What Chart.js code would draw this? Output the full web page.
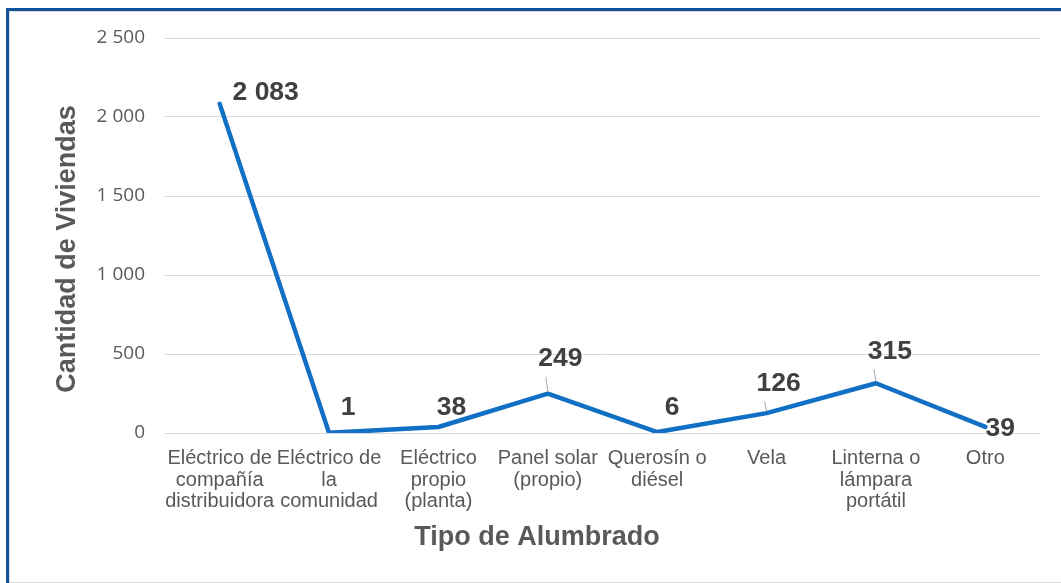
<!DOCTYPE html>
<html>
<head>
<meta charset="utf-8">
<script src="https://cdn.jsdelivr.net/npm/chart.js@4/dist/chart.umd.min.js"></script>
<style>
  html, body { margin: 0; padding: 0; width: 1061px; height: 583px; overflow: hidden; background: #ffffff; }
  .frame { position: absolute; left: 6px; top: 8px; width: 2000px; height: 2000px; border-left: 3px solid #12539B; border-top: 3px solid #12539B; }
  .inner { position: absolute; left: 9px; top: 11px; width: 2000px; height: 570px; border-left: 1px solid #d9d9d9; border-top: 1px solid #d9d9d9; border-bottom: 1px solid #d9d9d9; }
  #c { position: absolute; left: 0; top: 0; }
</style>
</head>
<body>
<div class="frame"></div>
<div class="inner"></div>
<canvas id="c" width="1061" height="583"></canvas>
<script>
// ---- data ----
const categories = [
  ["Eléctrico de", "compañía", "distribuidora"],
  ["Eléctrico de", "la", "comunidad"],
  ["Eléctrico", "propio", "(planta)"],
  ["Panel solar", "(propio)"],
  ["Querosín o", "diésel"],
  ["Vela"],
  ["Linterna o", "lámpara", "portátil"],
  ["Otro"]
];
const viviendas = [2083, 1, 38, 249, 6, 126, 315, 39];
const yTicks = [0, 500, 1000, 1500, 2000, 2500];
const xTitle = "Tipo de Alumbrado";
const yTitle = "Cantidad de Viviendas";

// ---- styling / placement (not data) ----
const labelOffsets = [[46, -12], [19, -26], [13, -20.5], [12.5, -36], [15, -25], [12, -30.5], [14, -33], [15, 1]];
const leaderLines = { 3: true, 5: true, 6: true };

function fmt(v) {
  return String(v).replace(/\B(?=(\d{3})+(?!\d))/g, " ");
}

const overlayPlugin = {
  id: 'overlay',
  afterDatasetsDraw(chart) {
    const ctx = chart.ctx;
    const meta = chart.getDatasetMeta(0);
    ctx.save();
    meta.data.forEach((pt, i) => {
      const off = labelOffsets[i];
      const lx = pt.x + off[0];
      const ly = pt.y + off[1];
      if (leaderLines[i]) {
        ctx.strokeStyle = '#a6a6a6';
        ctx.lineWidth = 1;
        ctx.beginPath();
        ctx.moveTo(pt.x, pt.y - 2);
        ctx.lineTo(pt.x - 2, ly + 19);
        ctx.stroke();
      }
      ctx.fillStyle = '#404040';
      ctx.font = 'bold 26.5px "Liberation Sans", Arial, sans-serif';
      ctx.textAlign = 'center';
      ctx.textBaseline = 'middle';
      ctx.fillText(fmt(viviendas[i]), lx, ly + 1);
    });
    // axis titles
    ctx.fillStyle = '#595959';
    ctx.font = 'bold 27px "Liberation Sans", Arial, sans-serif';
    ctx.textAlign = 'center';
    ctx.textBaseline = 'middle';
    ctx.fillText(xTitle, 537, 538);
    ctx.translate(68, 249);
    ctx.rotate(-Math.PI / 2);
    ctx.fillText(yTitle, 0, 0);
    ctx.restore();
  }
};

new Chart(document.getElementById('c'), {
  type: 'line',
  data: {
    labels: categories,
    datasets: [{
      data: viviendas,
      borderColor: '#1170C4',
      borderWidth: 4.5,
      borderCapStyle: 'round',
      borderJoinStyle: 'round',
      pointRadius: 0,
      pointHoverRadius: 0,
      tension: 0,
      fill: false
    }]
  },
  options: {
    responsive: false,
    animation: false,
    events: [],
    layout: { padding: { left: 0, right: 21, top: 38, bottom: 0 } },
    plugins: { legend: { display: false }, tooltip: { enabled: false } },
    scales: {
      x: {
        offset: true,
        grid: { display: false },
        border: { display: false },
        ticks: {
          color: '#595959',
          font: { family: '"Liberation Sans", Arial, sans-serif', size: 20, lineHeight: 1.075 },
          padding: 7,
          maxRotation: 0,
          minRotation: 0,
          autoSkip: false
        },
        afterFit(scale) { scale.height = 150; }
      },
      y: {
        min: 0,
        max: 2500,
        afterBuildTicks(scale) { scale.ticks = yTicks.map(v => ({ value: v })); },
        grid: { color: '#d9d9d9', lineWidth: 1, drawTicks: false },
        border: { display: false },
        ticks: {
          color: '#595959',
          font: { family: '"Open Sans", sans-serif', size: 19 },
          padding: 20,
          callback: (v) => fmt(v)
        },
        afterFit(scale) { scale.width = 165; }
      }
    }
  },
  plugins: [overlayPlugin]
});
</script>
</body>
</html>
